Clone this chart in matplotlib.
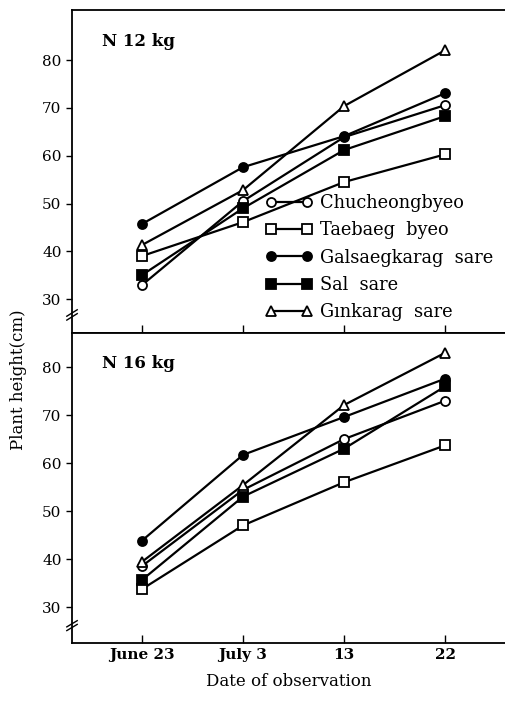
import matplotlib
matplotlib.use("Agg")
import matplotlib.pyplot as plt

plt.rcParams['font.family'] = ['DejaVu Serif']

dates = ["June 23", "July 3", "13", "22"]
x = [0, 1, 2, 3]

varieties = ["Chucheongbyeo", "Taebaeg  byeo", "Galsaegkarag  sare",
             "Sal  sare", "Gınkarag  sare"]

# plant height (cm), N 12 kg
n12_chucheong = [32.9, 50.5, 63.9, 70.6]
n12_taebaeg = [39.0, 46.1, 54.5, 60.3]
n12_galsaeg = [45.7, 57.6, 64.1, 73.1]
n12_sal = [35.0, 49.0, 61.2, 68.3]
n12_ginkarag = [41.3, 52.8, 70.4, 82.1]

# plant height (cm), N 16 kg
n16_chucheong = [38.5, 54.4, 65.0, 73.0]
n16_taebaeg = [33.7, 47.0, 56.0, 63.7]
n16_galsaeg = [43.8, 61.7, 69.6, 77.6]
n16_sal = [35.6, 53.0, 63.0, 76.0]
n16_ginkarag = [39.4, 55.4, 72.1, 83.0]

styles = [
    dict(marker='o', mfc='white'),
    dict(marker='s', mfc='white'),
    dict(marker='o', mfc='black'),
    dict(marker='s', mfc='black'),
    dict(marker='^', mfc='white'),
]

fig = plt.figure(figsize=(5.05, 7.09), dpi=100)
ax1 = fig.add_axes([0.1426, 0.5303, 0.8574, 0.4556])
ax2 = fig.add_axes([0.1426, 0.0931, 0.8574, 0.4372])


def draw(ax, series, label, ylim):
    for vals, name, st in zip(series, varieties, styles):
        ax.plot(x, vals, color='black', lw=1.6, ms=6.5, mec='black',
                mew=1.3, label=name, **st)
    ax.set_xlim(-0.69, 3.59)
    ax.set_ylim(*ylim)
    ax.set_yticks([30, 40, 50, 60, 70, 80])
    ax.set_xticks(x)
    ax.tick_params(axis='y', direction='out', length=4, labelsize=11, width=1)
    ax.tick_params(axis='x', direction='in', length=6, width=1)
    ax.spines['right'].set_visible(False)
    for s in ['left', 'top', 'bottom']:
        ax.spines[s].set_linewidth(1.3)
    ax.text(0.07, 0.93, label, transform=ax.transAxes, fontsize=12,
            fontweight='bold', va='top', ha='left')
    # axis break marks on the left spine
    for dy in (0.0, 0.012):
        ax.plot([-0.012, 0.012], [0.04 + dy, 0.06 + dy], color='black',
                lw=1.0, transform=ax.transAxes, clip_on=False)


draw(ax1, [n12_chucheong, n12_taebaeg, n12_galsaeg, n12_sal, n12_ginkarag],
     "N 12 kg", (22.9, 90.5))
draw(ax2, [n16_chucheong, n16_taebaeg, n16_galsaeg, n16_sal, n16_ginkarag],
     "N 16 kg", (22.5, 87.1))

ax1.set_xticklabels([])
ax2.set_xticklabels(dates, fontsize=11, fontweight='bold')
ax2.set_xlabel("Date of observation", fontsize=12, labelpad=8)
fig.text(0.036, 0.465, "Plant height(cm)", rotation=90, fontsize=12,
         ha='center', va='center')

ax1.legend(loc='upper left', bbox_to_anchor=(0.448, 0.43), frameon=False,
           numpoints=2, handlelength=2.6, handletextpad=0.45, fontsize=12.8,
           labelspacing=0.52, borderaxespad=0, borderpad=0)

fig.savefig("out.png", dpi=100)
